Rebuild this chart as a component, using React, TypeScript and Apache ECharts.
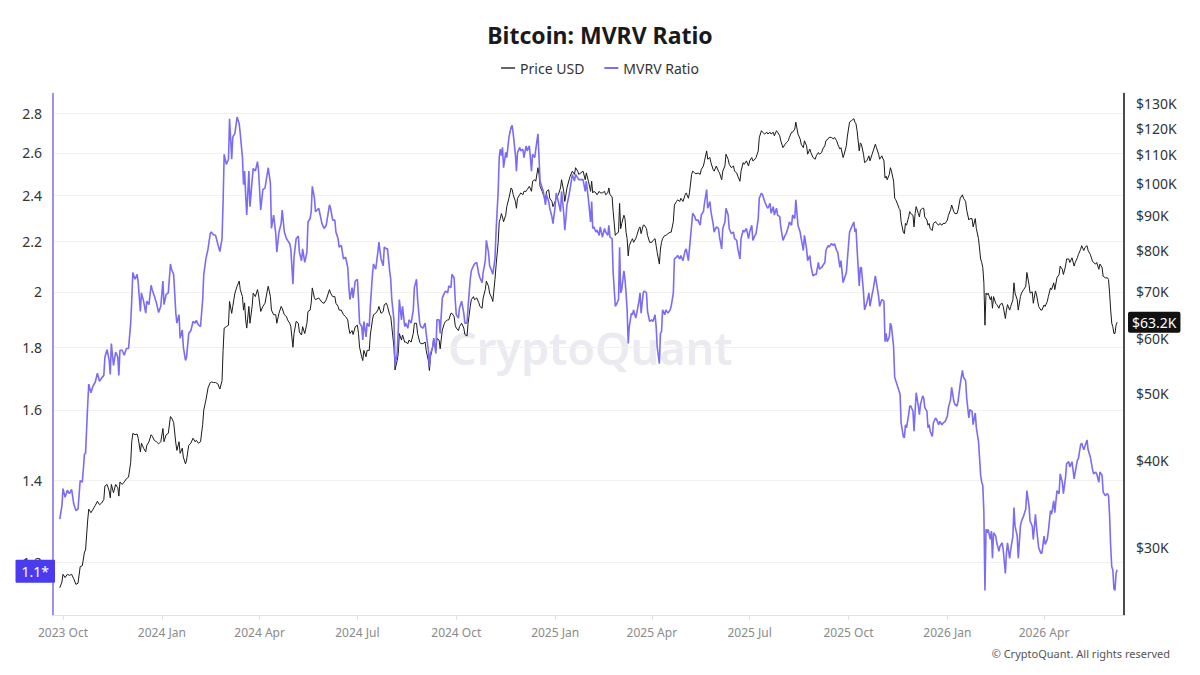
import { useEffect, useRef } from "react";
import * as echarts from "echarts";

// ---------------- data ----------------
const BASE_DATE_UTC = Date.UTC(2023, 9, 1); // 2023-10-01
const DAY_MS = 86400000;

// days since 2023-10-01
const days = [
  -3, -1, 0, 2, 4, 6, 8, 10, 12, 14,
  16, 18, 20, 21, 23, 24, 26, 28, 30, 32,
  34, 36, 38, 39, 41, 43, 44, 45, 47, 49,
  51, 52, 53, 55, 57, 59, 61, 63, 64, 65,
  67, 69, 70, 72, 73, 75, 77, 78, 80, 82,
  83, 85, 87, 89, 91, 93, 94, 96, 98, 100,
  101, 103, 105, 106, 108, 109, 111, 112, 114, 115,
  117, 119, 121, 123, 124, 126, 128, 130, 131, 133,
  135, 137, 138, 140, 142, 144, 146, 148, 149, 150,
  152, 154, 155, 157, 158, 160, 162, 164, 165, 167,
  168, 169, 170, 171, 173, 174, 176, 177, 179, 181,
  182, 184, 186, 188, 190, 191, 193, 194, 196, 198,
  199, 201, 203, 204, 206, 208, 209, 211, 212, 214,
  215, 217, 219, 220, 222, 223, 225, 227, 228, 230,
  231, 232, 234, 235,
  238, 241, 243, 245, 248, 249, 251, 253, 254, 256,
  257, 259, 261, 263, 265, 266, 267, 269, 270, 272,
  274, 275, 276, 278, 279, 280, 282, 283, 285, 286,
  288, 289, 291, 293, 294, 296, 298, 299, 301, 302,
  304, 305, 306, 308, 309, 311, 312, 313, 315, 316,
  318, 319, 321, 322, 324, 326, 327, 329, 330, 332,
  333, 335, 337, 338, 340, 341, 342, 344, 345, 347,
  348, 350, 351, 353, 355, 356, 358, 359, 361, 362,
  364, 365, 366, 368, 369, 371, 373, 374, 376, 377,
  379, 380, 382, 383, 385, 387, 388, 390, 391, 393,
  394, 396, 397, 399, 400, 402, 403, 405, 406, 407,
  408, 409, 410, 412, 413, 415, 417, 418, 419, 421,
  422, 423, 425, 426, 428, 429, 431, 432, 434, 436,
  437, 439, 440, 442, 443, 444, 446, 447, 449, 450,
  452, 453, 455, 456, 458, 459, 461, 463, 464, 466,
  467, 468, 469, 471, 472, 474, 476, 477, 479, 480,
  484, 486, 487, 489, 491, 492, 493, 494, 496, 497,
  499, 500, 502, 504, 505, 507, 508, 509, 511, 512,
  514, 515, 517, 518, 519, 520, 522, 523, 524, 525,
  526, 527, 529, 530, 531, 533, 534, 536, 537, 538,
  540, 541, 543, 544, 546, 548, 549, 551, 552, 553,
  555, 556, 557, 558, 560, 561, 563, 565, 566, 568,
  569, 571, 572, 574, 575, 577, 579, 580, 582, 583,
  585, 586, 588, 589, 591, 593, 594, 596, 597, 599,
  600, 602, 603, 605, 606, 608, 610, 611, 613, 614,
  616, 617, 619, 620, 622, 624, 625, 627, 628, 630,
  631, 633, 634, 636, 638, 639, 641, 642, 644, 645,
  647, 648, 650, 651, 653, 655, 656, 658, 659, 661,
  662, 664, 665, 667, 668, 670, 672, 673, 675, 676,
  678, 679, 681, 682, 684, 686, 687, 689, 690, 692,
  693, 695, 696, 698, 700, 701, 703, 704, 706, 707,
  709, 710, 712, 713, 715, 717, 718, 720, 721, 723,
  724, 726, 727, 729, 730,
  732, 734, 736, 737, 738, 739, 741, 742, 743, 745,
  746, 748, 750, 751, 753, 754, 756, 757, 759, 760,
  762, 764, 765, 766, 767, 769, 770, 771, 773, 774,
  775, 777, 778, 779, 780, 782, 783, 784, 785, 787,
  788, 789, 791, 792, 793, 794, 796, 797, 798, 800,
  801, 802, 804, 805, 806, 807, 809, 810, 812, 813,
  815, 816, 818, 819, 821, 823, 824, 826, 827, 829,
  830, 832, 833, 835, 837, 838, 840, 841, 843, 844,
  846, 847, 849, 850, 852, 854, 855, 856, 857, 858,
  859, 860, 861, 863, 864, 865, 866, 868, 869, 871,
  872, 874, 875, 877, 878, 879, 881, 882, 884, 885,
  886, 888, 889, 891, 892, 894, 896, 897, 899, 900,
  902, 903, 905, 906, 908, 910, 911, 913, 914, 916,
  917, 919, 920, 922, 923, 925, 927, 928, 930, 931,
  933, 934, 936, 937, 939, 941, 942, 944, 945, 947,
  948, 950, 951, 953, 954, 956, 958, 959, 961, 962,
  964, 965, 967, 968, 970, 972, 973, 974, 975, 976,
  977, 978, 979, 980, 981,
];

const mvrvRatio = [
  1.302, 1.335, 1.379, 1.357, 1.375, 1.366, 1.377, 1.340, 1.323, 1.327,
  1.400, 1.396, 1.472, 1.474, 1.617, 1.680, 1.653, 1.675, 1.686, 1.715,
  1.689, 1.700, 1.708, 1.768, 1.793, 1.757, 1.711, 1.814, 1.740, 1.785,
  1.768, 1.708, 1.791, 1.791, 1.774, 1.797, 1.797, 1.885, 1.971, 2.074,
  2.048, 2.067, 2.035, 1.927, 1.996, 1.965, 1.921, 1.965, 1.952, 2.025,
  2.009, 1.984, 1.958, 1.923, 1.946, 2.041, 1.952, 1.990, 1.996, 2.108,
  2.087, 2.067, 1.921, 1.885, 1.915, 1.832, 1.861, 1.802, 1.757, 1.768,
  1.849, 1.858, 1.891, 1.885, 1.895, 1.879, 1.873, 1.971, 2.067, 2.128,
  2.169, 2.232, 2.239, 2.228, 2.225, 2.190, 2.158, 2.211, 2.372, 2.593,
  2.544, 2.569, 2.773, 2.569, 2.678, 2.698, 2.782, 2.747, 2.695, 2.577,
  2.449, 2.512, 2.402, 2.312, 2.512, 2.349, 2.467, 2.525, 2.512, 2.557,
  2.512, 2.334, 2.426, 2.433, 2.496, 2.528, 2.457, 2.254, 2.312, 2.232,
  2.155, 2.239, 2.275, 2.334, 2.239, 2.211, 2.204, 2.190, 2.169, 2.029,
  2.135, 2.211, 2.222, 2.155, 2.121, 2.169, 2.114, 2.155, 2.282, 2.297,
  2.327, 2.441, 2.387, 2.327,
  2.342, 2.275, 2.254, 2.268, 2.357, 2.342, 2.290, 2.290, 2.239, 2.211,
  2.176, 2.183, 2.128, 2.135, 2.094, 2.022, 1.971, 2.016, 1.977, 2.041,
  2.048, 1.971, 1.885, 1.873, 1.826, 1.891, 1.837, 1.885, 1.873, 1.946,
  2.067, 2.108, 2.087, 2.155, 2.197, 2.128, 2.101, 2.176, 2.169, 2.169,
  2.081, 2.048, 1.971, 1.897, 1.740, 1.780, 1.860, 1.971, 1.897, 1.946,
  1.873, 1.885, 1.867, 1.897, 1.885, 1.933, 2.016, 2.048, 1.971, 1.885,
  1.873, 1.867, 1.885, 1.849, 1.791, 1.735, 1.780, 1.802, 1.832, 1.780,
  1.897, 1.897, 1.849, 1.977, 1.996, 2.003, 1.996, 2.022, 2.016, 2.067,
  2.054, 1.971, 1.915, 1.903, 1.940, 1.965, 1.921, 1.885, 1.885, 1.946,
  2.048, 2.081, 2.101, 2.108, 2.114, 2.067, 2.054, 2.035, 2.074, 2.121,
  2.204, 2.155, 2.101, 2.081, 2.067, 2.128, 2.239, 2.420, 2.580, 2.618,
  2.586, 2.627, 2.528, 2.602, 2.577, 2.678, 2.730, 2.739, 2.695, 2.593,
  2.512, 2.602, 2.627, 2.610, 2.618, 2.577, 2.635, 2.610, 2.635, 2.512,
  2.593, 2.577, 2.618, 2.695, 2.577, 2.465, 2.433, 2.418, 2.357, 2.402,
  2.372, 2.342, 2.305, 2.275, 2.349, 2.410, 2.372, 2.327, 2.418, 2.320,
  2.247, 2.297, 2.357, 2.402, 2.433, 2.496, 2.465, 2.496, 2.480, 2.472,
  2.472, 2.418, 2.465, 2.380, 2.282, 2.372, 2.254, 2.261, 2.239, 2.247,
  2.225, 2.261, 2.218, 2.254, 2.239, 2.225, 2.268, 2.218, 2.211, 2.074,
  1.946, 1.952, 1.971, 2.176, 1.996, 2.009, 2.081, 2.048, 1.996, 1.933,
  1.814, 1.873, 1.921, 1.915, 1.933, 1.903, 1.921, 1.965, 1.996, 1.921,
  1.996, 2.003, 1.996, 1.927, 1.891, 1.897, 1.891, 1.915, 1.873, 1.802,
  1.746, 1.849, 1.855, 1.933, 1.915, 1.933, 1.921, 1.933, 1.946, 1.996,
  2.128, 2.135, 2.142, 2.128, 2.142, 2.121, 2.162, 2.169, 2.121, 2.169,
  2.268, 2.320, 2.305, 2.290, 2.290, 2.268, 2.312, 2.327, 2.364, 2.426,
  2.342, 2.372, 2.327, 2.275, 2.239, 2.261, 2.254, 2.218, 2.169, 2.254,
  2.282, 2.342, 2.312, 2.254, 2.232, 2.239, 2.211, 2.204, 2.169, 2.128,
  2.211, 2.247, 2.239, 2.254, 2.211, 2.239, 2.268, 2.204, 2.225, 2.232,
  2.297, 2.387, 2.410, 2.402, 2.372, 2.349, 2.342, 2.364, 2.320, 2.349,
  2.312, 2.342, 2.312, 2.305, 2.261, 2.204, 2.225, 2.232, 2.261, 2.282,
  2.268, 2.312, 2.297, 2.380, 2.268, 2.239, 2.211, 2.162, 2.225, 2.169,
  2.121, 2.142, 2.101, 2.061, 2.067, 2.067, 2.114, 2.087, 2.094, 2.101,
  2.114, 2.162, 2.183, 2.176, 2.190, 2.183, 2.190, 2.162, 2.155, 2.094,
  2.121, 2.035, 2.048, 2.074, 2.128,
  2.239, 2.261, 2.282, 2.239, 2.254, 2.169, 2.022, 2.094, 2.094, 1.996,
  1.933, 1.958, 1.996, 1.946, 1.990, 2.009, 2.061, 2.035, 1.984, 1.946,
  1.971, 1.965, 1.820, 1.849, 1.820, 1.837, 1.885, 1.873, 1.802, 1.702,
  1.691, 1.670, 1.659, 1.648, 1.561, 1.522, 1.518, 1.556, 1.547, 1.586,
  1.612, 1.612, 1.596, 1.537, 1.596, 1.653, 1.612, 1.586, 1.617, 1.643,
  1.637, 1.607, 1.596, 1.547, 1.556, 1.537, 1.522, 1.561, 1.576, 1.571,
  1.556, 1.566, 1.556, 1.561, 1.566, 1.581, 1.607, 1.632, 1.670, 1.627,
  1.617, 1.612, 1.627, 1.680, 1.724, 1.702, 1.691, 1.637, 1.576, 1.601,
  1.596, 1.556, 1.591, 1.547, 1.508, 1.414, 1.396, 1.387, 1.318, 1.138,
  1.277, 1.269, 1.277, 1.253, 1.273, 1.209, 1.269, 1.261, 1.245, 1.225,
  1.237, 1.245, 1.229, 1.175, 1.221, 1.245, 1.209, 1.229, 1.261, 1.331,
  1.285, 1.261, 1.209, 1.285, 1.297, 1.310, 1.327, 1.374, 1.335, 1.297,
  1.285, 1.253, 1.314, 1.281, 1.233, 1.221, 1.221, 1.261, 1.241, 1.253,
  1.273, 1.323, 1.314, 1.348, 1.318, 1.374, 1.366, 1.418, 1.396, 1.366,
  1.409, 1.446, 1.451, 1.437, 1.451, 1.405, 1.423, 1.455, 1.460, 1.498,
  1.503, 1.484, 1.493, 1.512, 1.484, 1.465, 1.432, 1.418, 1.423, 1.418,
  1.396, 1.423, 1.414, 1.370, 1.361, 1.366, 1.361, 1.310, 1.237, 1.190,
  1.183, 1.142, 1.138, 1.175, 1.183,
];

// BTC price in thousands of USD
const priceUsdK = [
  26.3, 26.8, 27.5, 27.2, 27.5, 27.4, 27.5, 27.1, 26.6, 26.7,
  28.2, 28.3, 29.6, 29.8, 32.9, 34.1, 33.7, 34.1, 34.5, 35.0,
  34.6, 34.8, 35.2, 36.8, 37.0, 36.2, 35.4, 37.0, 36.0, 37.0,
  36.6, 35.6, 37.3, 37.0, 37.3, 37.7, 37.9, 39.8, 42.6, 43.8,
  43.6, 43.7, 43.1, 41.2, 42.4, 41.7, 41.2, 42.1, 42.6, 43.6,
  43.4, 42.8, 42.6, 42.3, 42.6, 44.5, 42.6, 43.6, 43.8, 46.3,
  46.1, 45.4, 42.4, 41.4, 42.6, 41.0, 41.7, 40.5, 39.6, 40.1,
  42.1, 42.4, 43.1, 42.6, 42.8, 42.4, 42.6, 45.1, 47.3, 48.9,
  50.9, 51.8, 51.9, 51.8, 51.8, 51.6, 50.7, 52.1, 57.6, 62.0,
  62.3, 62.6, 67.7, 65.1, 66.6, 69.6, 71.2, 72.4, 70.4, 68.8,
  65.8, 67.4, 63.7, 62.0, 66.6, 63.0, 66.6, 69.6, 68.8, 70.4,
  69.2, 65.5, 66.6, 67.3, 70.0, 71.2, 68.8, 65.8, 64.8, 64.8,
  63.0, 65.1, 66.6, 66.2, 64.8, 64.4, 63.7, 63.0, 62.3, 58.2,
  60.9, 63.4, 63.0, 61.2, 60.6, 62.3, 60.9, 63.0, 65.5, 65.8,
  67.4, 70.8, 68.5, 68.1,
  68.5, 67.5, 67.3, 68.1, 70.4, 69.6, 68.8, 68.8, 67.3, 66.6,
  65.8, 65.8, 64.8, 64.4, 63.7, 62.0, 60.9, 61.5, 60.7, 62.3,
  62.6, 60.9, 58.2, 56.4, 55.7, 57.6, 56.4, 57.6, 57.6, 60.6,
  63.7, 64.8, 65.1, 65.8, 66.6, 65.1, 65.5, 67.0, 67.3, 66.6,
  64.8, 64.4, 62.3, 58.2, 54.0, 55.7, 57.0, 60.9, 59.6, 60.6,
  59.2, 59.2, 58.9, 59.6, 59.2, 60.9, 63.0, 63.0, 60.9, 59.2,
  58.9, 58.9, 59.2, 57.6, 55.7, 53.9, 56.4, 58.2, 59.9, 57.6,
  59.9, 59.6, 57.9, 61.6, 63.0, 63.4, 63.7, 63.7, 65.1, 65.1,
  64.4, 62.6, 62.0, 61.5, 62.3, 63.0, 62.0, 60.7, 60.4, 63.0,
  66.6, 68.1, 68.8, 68.1, 68.5, 67.4, 66.6, 66.2, 68.5, 70.4,
  72.4, 71.2, 69.6, 68.5, 67.7, 72.8, 76.1, 82.3, 88.1, 89.0,
  90.5, 89.5, 88.1, 90.0, 92.6, 95.2, 98.5, 98.0, 96.3, 94.2,
  92.1, 95.2, 96.3, 96.9, 96.3, 97.4, 97.4, 98.0, 99.0, 97.4,
  100.7, 101.2, 100.7, 105.3, 103.0, 99.0, 97.4, 96.3, 94.7, 97.4,
  97.9, 95.2, 94.2, 92.6, 94.2, 95.2, 96.3, 98.5, 101.2, 97.4,
  94.2, 96.3, 98.5, 101.2, 102.4, 104.1, 103.0, 105.3, 104.1, 103.0,
  104.1, 101.2, 103.5, 100.7, 97.4, 100.7, 96.9, 97.4, 96.9, 96.3,
  97.4, 96.9, 96.9, 97.4, 96.3, 96.9, 98.5, 96.3, 95.7, 91.1,
  84.2, 84.7, 85.1, 93.6, 86.1, 87.6, 90.0, 89.0, 85.1, 83.3,
  78.7, 81.4, 82.8, 83.3, 82.3, 83.3, 84.2, 86.1, 86.6, 84.7,
  87.1, 87.1, 86.1, 84.2, 82.3, 82.3, 82.8, 83.3, 81.4, 79.6,
  76.6, 80.5, 82.3, 83.3, 84.2, 84.2, 84.7, 85.1, 85.1, 88.1,
  93.1, 94.2, 94.7, 94.2, 95.2, 94.2, 96.3, 96.9, 95.2, 96.9,
  103.0, 104.1, 103.5, 103.2, 103.5, 103.0, 104.7, 105.9, 107.7, 111.3,
  108.3, 108.9, 107.1, 104.7, 104.1, 105.9, 104.1, 103.5, 101.2, 104.1,
  105.9, 110.1, 108.3, 106.5, 105.3, 105.9, 104.1, 103.5, 102.4, 100.7,
  104.1, 107.1, 106.5, 107.7, 105.9, 107.7, 108.9, 107.7, 108.3, 108.9,
  111.3, 116.4, 119.0, 118.4, 117.7, 118.4, 117.7, 118.4, 117.7, 118.4,
  117.0, 119.0, 118.4, 117.0, 115.1, 112.5, 113.8, 114.3, 115.1, 116.4,
  118.4, 118.4, 119.6, 122.4, 117.7, 115.8, 113.8, 112.5, 115.1, 113.2,
  110.1, 112.0, 110.7, 108.9, 108.3, 109.5, 110.7, 110.1, 110.7, 112.0,
  113.2, 115.1, 115.8, 116.4, 116.4, 115.8, 116.4, 115.1, 113.8, 112.0,
  112.5, 108.9, 110.1, 113.2, 116.9,
  122.4, 123.1, 123.8, 122.4, 121.7, 119.0, 111.3, 114.3, 113.8, 110.1,
  107.1, 107.7, 109.5, 107.7, 110.1, 111.3, 113.8, 112.5, 110.1, 108.3,
  109.5, 107.7, 101.8, 102.4, 101.2, 103.0, 105.3, 104.1, 100.7, 95.2,
  94.7, 93.1, 92.1, 91.6, 88.1, 85.1, 84.7, 87.6, 87.1, 89.5,
  91.1, 90.5, 90.0, 86.6, 90.5, 92.6, 90.5, 89.5, 91.6, 92.1,
  92.1, 89.5, 88.6, 87.1, 87.6, 86.1, 85.6, 87.6, 88.1, 87.6,
  87.1, 87.6, 87.1, 87.6, 87.6, 88.6, 90.0, 91.6, 93.1, 91.1,
  90.5, 90.5, 91.6, 95.2, 96.3, 95.2, 94.2, 91.6, 88.6, 89.0,
  89.0, 86.6, 89.0, 86.1, 83.3, 77.9, 77.0, 75.7, 72.0, 62.6,
  69.6, 69.2, 69.6, 68.1, 68.8, 66.2, 68.8, 67.3, 67.0, 66.2,
  67.0, 67.3, 66.6, 64.0, 65.8, 67.0, 65.8, 66.6, 68.1, 72.0,
  69.6, 68.1, 65.8, 68.8, 69.6, 70.4, 71.2, 74.5, 71.6, 69.6,
  69.9, 67.3, 70.1, 69.2, 66.6, 65.8, 65.8, 66.9, 66.6, 67.7,
  68.8, 70.8, 70.4, 72.0, 70.4, 73.2, 74.0, 76.1, 75.3, 74.0,
  76.1, 77.9, 77.9, 77.0, 78.2, 76.1, 77.0, 78.2, 79.1, 80.4,
  81.4, 80.1, 80.9, 81.4, 80.1, 79.1, 77.4, 77.0, 76.6, 77.0,
  75.3, 76.6, 75.7, 73.6, 73.2, 73.2, 72.8, 69.6, 65.8, 63.0,
  62.3, 60.9, 60.9, 62.6, 63.2,
];

const xTickDates = [
  "2023-10-01", "2024-01-01", "2024-04-01", "2024-07-01", "2024-10-01", "2025-01-01",
  "2025-04-01", "2025-07-01", "2025-10-01", "2026-01-01", "2026-04-01",
];
const mvrvTicks = [1.2, 1.4, 1.6, 1.8, 2, 2.2, 2.4, 2.6, 2.8];
const priceTicksK = [30, 40, 50, 60, 70, 80, 90, 100, 110, 120, 130];
const MONTHS = ["Jan", "Feb", "Mar", "Apr", "May", "Jun", "Jul", "Aug", "Sep", "Oct", "Nov", "Dec"];
const lastMvrvLabel = "1.1*";
const lastPriceLabel = "$63.2K";

const FONT = '"Noto Sans", "Open Sans", sans-serif';
const MVRV_COLOR = "#7b6cf6";

export default function App() {
  const ref = useRef<HTMLDivElement>(null);

  useEffect(() => {
    if (!ref.current) return;
    const chart = echarts.init(ref.current, null, { renderer: "svg" });

    const toTime = (d: number) => BASE_DATE_UTC + d * DAY_MS;
    const mvrvData = days.map((d, i) => [toTime(d), mvrvRatio[i]]);
    const priceData = days.map((d, i) => [toTime(d), priceUsdK[i]]);
    const xTicks = xTickDates.map((s) => new Date(s + "T00:00:00Z").getTime());

    const option: any = {
      animation: false,
      backgroundColor: "#ffffff",
      textStyle: { fontFamily: FONT },
      title: {
        text: "Bitcoin: MVRV Ratio",
        left: "center",
        top: 18,
        textStyle: { fontSize: 23, fontWeight: "bold", color: "#1a1a1a", fontFamily: FONT },
      },
      legend: {
        top: 56,
        left: "center",
        icon: "rect",
        itemWidth: 14,
        itemHeight: 2,
        itemGap: 20,
        textStyle: { fontSize: 14, color: "#333", fontFamily: FONT },
        data: [
          { name: "Price USD", itemStyle: { color: "#666" } },
          { name: "MVRV Ratio", itemStyle: { color: MVRV_COLOR } },
        ],
      },
      grid: { left: 53, right: 76, top: 93.6, bottom: 60, containLabel: false },
      xAxis: {
        type: "value",
        min: toTime(-9.3),
        max: toTime(987.4),
        axisLine: { show: true, lineStyle: { color: "#e2e2e2", width: 1 } },
        axisTick: { show: true, customValues: xTicks, length: 5, lineStyle: { color: "#e2e2e2" } },
        axisLabel: {
          customValues: xTicks,
          color: "#8a8a8a",
          fontSize: 12,
          margin: 11,
          fontFamily: FONT,
          formatter: (v: number) => {
            const d = new Date(v);
            return `${d.getUTCFullYear()} ${MONTHS[d.getUTCMonth()]}`;
          },
        },
        splitLine: { show: false },
      },
      yAxis: [
        {
          type: "log",
          logBase: 10,
          position: "left",
          min: 1.0863,
          max: 2.908,
          axisLine: { show: true, lineStyle: { color: MVRV_COLOR, width: 1.5 } },
          axisTick: { show: false, customValues: mvrvTicks },
          axisLabel: {
            customValues: mvrvTicks,
            color: "#333",
            fontSize: 14,
            margin: 11,
            fontFamily: FONT,
            formatter: (v: number) => String(Math.round(v * 10) / 10),
          },
          splitLine: { show: true, lineStyle: { color: "#f1f1f1", width: 1 } },
        },
        {
          type: "log",
          logBase: 10,
          position: "right",
          min: 24.04,
          max: 134.5,
          axisLine: { show: true, lineStyle: { color: "#111", width: 1.5 } },
          axisTick: { show: false, customValues: priceTicksK },
          axisLabel: {
            customValues: priceTicksK,
            color: "#333",
            fontSize: 14,
            margin: 12,
            fontFamily: FONT,
            formatter: (v: number) => `$${Math.round(v)}K`,
          },
          splitLine: { show: false },
        },
      ],
      graphic: [
        {
          type: "text",
          left: 448,
          top: 325,
          z: -1,
          silent: true,
          style: {
            text: "CryptoQuant",
            fontSize: 45,
            fontWeight: 600,
            fontFamily: FONT,
            fill: "rgba(200, 200, 216, 0.4)",
          },
        },
        {
          type: "text",
          right: 30,
          top: 648,
          silent: true,
          style: {
            text: "© CryptoQuant. All rights reserved",
            fontSize: 11,
            fontFamily: FONT,
            fill: "#555",
          },
        },
      ],
      series: [
        {
          name: "Price USD",
          type: "line",
          yAxisIndex: 1,
          data: priceData,
          showSymbol: false,
          symbol: "none",
          color: "#1a1a1a",
          lineStyle: { color: "#1a1a1a", width: 1 },
          emphasis: { disabled: true },
          markLine: {
            silent: true,
            symbol: ["none", "none"],
            lineStyle: { color: "rgba(0,0,0,0)", width: 0 },
            label: {
              show: true,
              position: "end",
              distance: 4,
              formatter: lastPriceLabel,
              color: "#fff",
              backgroundColor: "#111",
              borderRadius: 2,
              padding: [4, 4, 3, 4],
              fontSize: 14,
              fontFamily: FONT,
            },
            data: [{ yAxis: priceUsdK[priceUsdK.length - 1] }],
          },
        },
        {
          name: "MVRV Ratio",
          type: "line",
          yAxisIndex: 0,
          data: mvrvData,
          showSymbol: false,
          symbol: "none",
          color: MVRV_COLOR,
          lineStyle: { color: MVRV_COLOR, width: 1.6 },
          emphasis: { disabled: true },
          markLine: {
            silent: true,
            symbol: ["none", "none"],
            lineStyle: { color: "rgba(0,0,0,0)", width: 0 },
            label: {
              show: true,
              position: "start",
              distance: -2,
              formatter: lastMvrvLabel,
              color: "#fff",
              backgroundColor: "#4b3bef",
              borderRadius: 1,
              padding: [5, 6, 4, 6],
              fontSize: 14,
              fontFamily: FONT,
            },
            data: [{ yAxis: mvrvRatio[mvrvRatio.length - 1] }],
          },
        },
      ],
    };

    chart.setOption(option);
    return () => chart.dispose();
  }, []);

  return (
    <div
      ref={ref}
      style={{ position: "absolute", left: 0, top: 0, width: 1200, height: 675, background: "#fff" }}
    />
  );
}
